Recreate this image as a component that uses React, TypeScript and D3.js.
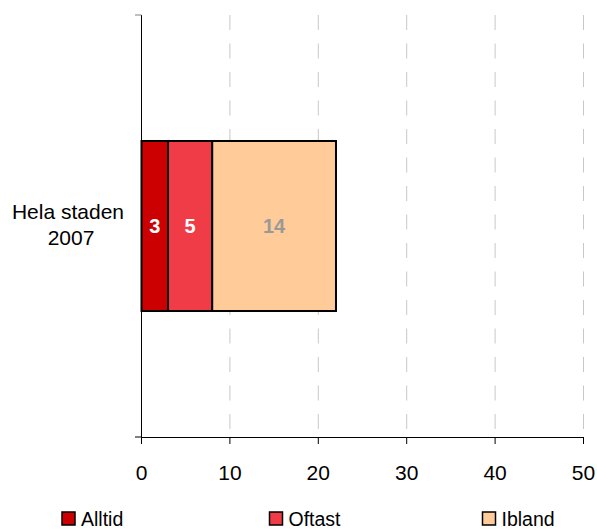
import React from "react";
import * as d3 from "d3";

const categories = ["Hela staden 2007"];
const seriesNames = ["Alltid", "Oftast", "Ibland"];
const seriesValues = [[3], [5], [14]];
const seriesColors = ["#CC0000", "#F03C46", "#FFCC99"];
const labelColors = ["#FFFFFF", "#FFFFFF", "#999999"];
const xTicks = [0, 10, 20, 30, 40, 50];

export default function App() {
  const W = 597, H = 529;
  const x = d3.scaleLinear().domain([0, 50]).range([141.5, 583.5]);
  const y = d3.scaleBand().domain(categories).range([15, 437]).paddingInner(0).paddingOuter(0.741);
  const font = "Arial, 'Liberation Sans', sans-serif";

  const stacks = categories.map((c, ci) => {
    let acc = 0;
    return seriesValues.map((vals, si) => {
      const v = vals[ci];
      const s = { x0: acc, x1: acc + v, v, si, c };
      acc += v;
      return s;
    });
  });

  return (
    <svg width={W} height={H} style={{ position: "absolute", left: 0, top: 0 }} fontFamily={font}>
      <rect width={W} height={H} fill="#fff" />
      {xTicks.filter((t) => t > 0).map((t) => (
        <line key={t} x1={x(t)} x2={x(t)} y1={15} y2={437} stroke="#C8C8C8" strokeWidth={1} strokeDasharray="15,13.5" />
      ))}
      {stacks.map((st, ci) =>
        st.map((s) => (
          <g key={`${ci}-${s.si}`}>
            <rect x={x(s.x0)} y={y(s.c)!} width={x(s.x1) - x(s.x0)} height={y.bandwidth()} fill={seriesColors[s.si]} stroke="#000" strokeWidth={2} />
            <text x={(x(s.x0) + x(s.x1)) / 2} y={y(s.c)! + y.bandwidth() / 2 + 7} textAnchor="middle" fontSize={20} fontWeight="bold" fill={labelColors[s.si]}>
              {s.v}
            </text>
          </g>
        ))
      )}
      {/* y axis */}
      <line x1={141.5} x2={141.5} y1={15} y2={437} stroke="#000" strokeWidth={1} />
      <line x1={135} x2={141.5} y1={15} y2={15} stroke="#808080" strokeWidth={1} />
      <line x1={135} x2={141.5} y1={437} y2={437} stroke="#000" strokeWidth={1} />
      {/* x axis */}
      <line x1={141.5} x2={584} y1={437.5} y2={437.5} stroke="#000" strokeWidth={1} />
      {xTicks.map((t) => (
        <g key={t}>
          <line x1={x(t)} x2={x(t)} y1={437} y2={444} stroke="#000" strokeWidth={1} />
          <text x={x(t)} y={480} textAnchor="middle" fontSize={21} fill="#000">{t}</text>
        </g>
      ))}
      {categories.map((c) => {
        const parts = ["Hela staden", "2007"];
        const cy = y(c)! + y.bandwidth() / 2;
        return (
          <text key={c} textAnchor="middle" fontSize={21} fill="#000">
            <tspan x={68} y={cy - 7}>{parts[0]}</tspan>
            <tspan x={71} y={cy + 19}>{parts[1]}</tspan>
          </text>
        );
      })}
      {seriesNames.map((n, i) => {
        const lx = [62, 269.5, 482.5][i];
        return (
          <g key={n}>
            <rect x={lx} y={512} width={13} height={13} fill={seriesColors[i]} stroke="#000" strokeWidth={1.5} />
            <text x={lx + 19} y={525.5} fontSize={19.5} fill="#000">{n}</text>
          </g>
        );
      })}
    </svg>
  );
}
